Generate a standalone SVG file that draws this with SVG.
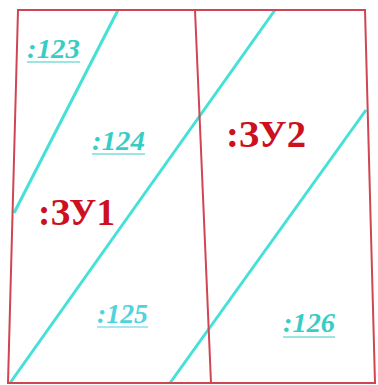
<svg xmlns="http://www.w3.org/2000/svg" width="378" height="385" viewBox="0 0 378 385">
<style>
.b{fill:none;stroke:#d04552;stroke-width:2}
.c{fill:none;stroke:#45e0d8;stroke-width:3}
.n{font-family:"Liberation Serif",serif;font-style:italic;font-weight:bold;font-size:27px;fill:#38cdc4}
.u{stroke:#38cdc4;stroke-width:1.2}
.z{font-family:"Liberation Serif",serif;font-weight:bold;font-size:37px;fill:#cc1020}
</style>
<rect width="378" height="385" fill="#fff"/>
<g id="hatch">
<line class="c" x1="118" y1="10" x2="14" y2="213"/>
<line class="c" x1="275" y1="10" x2="10" y2="383"/>
<line class="c" x1="366" y1="110" x2="170" y2="383"/>
</g>
<g id="outline">
<polygon class="b" points="18,10 365,10 375,383 8,383"/>
<line class="b" x1="195" y1="10" x2="211" y2="383"/>
</g>
<g id="labels">
<text class="n" x="27" y="58" textLength="53" lengthAdjust="spacingAndGlyphs">:123</text>
<line class="u" x1="27" y1="62" x2="80" y2="62"/>
<text class="n" x="92" y="150" textLength="53" lengthAdjust="spacingAndGlyphs">:124</text>
<line class="u" x1="92" y1="154" x2="145" y2="154"/>
<text class="n" x="97" y="323" textLength="51" lengthAdjust="spacingAndGlyphs" style="fill:#52d2dc">:125</text>
<line class="u" x1="97" y1="327" x2="148" y2="327" style="stroke:#52d2dc"/>
<text class="n" x="283" y="332" textLength="52" lengthAdjust="spacingAndGlyphs">:126</text>
<line class="u" x1="283" y1="337" x2="335" y2="337"/>
<text class="z" x="38" y="225" textLength="77" lengthAdjust="spacingAndGlyphs">:ЗУ1</text>
<text class="z" x="226" y="147" textLength="80" lengthAdjust="spacingAndGlyphs">:ЗУ2</text>
</g>
</svg>
